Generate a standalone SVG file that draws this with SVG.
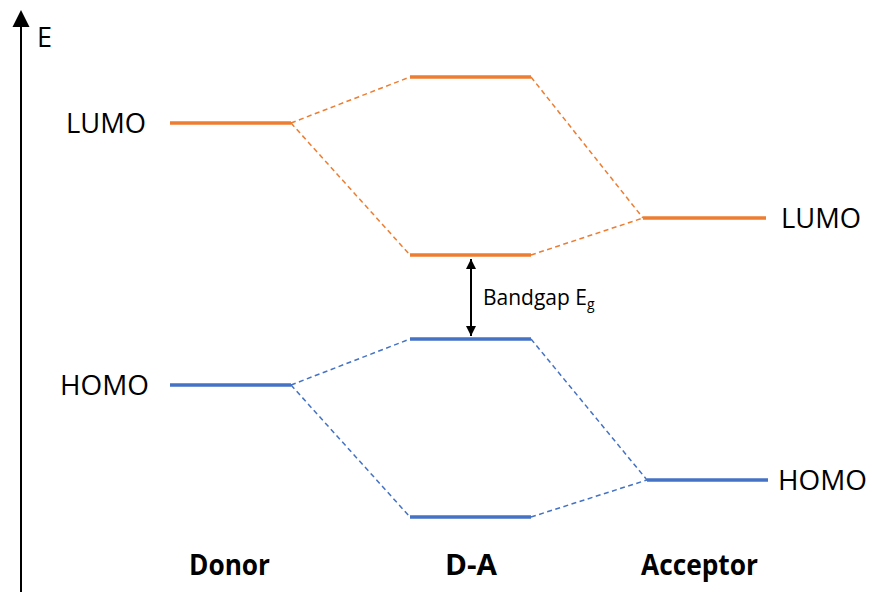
<svg xmlns="http://www.w3.org/2000/svg" width="872" height="592" viewBox="0 0 872 592">
<style>
.lo{stroke:#ED7D31;stroke-width:3.5;fill:none}
.ho{stroke:#4472C4;stroke-width:3.5;fill:none}
.dlo{stroke:#ED7D31;stroke-width:1.5;stroke-dasharray:5 3.5;fill:none}
.dho{stroke:#4472C4;stroke-width:1.5;stroke-dasharray:5 3.5;fill:none}
.lbl{font-family:"Open Sans","Liberation Sans",sans-serif;font-size:27px;fill:#000}
.cat{font-family:"Open Sans","Liberation Sans",sans-serif;font-size:28px;font-weight:bold;fill:#000}
.bg{font-family:"Open Sans","Liberation Sans",sans-serif;font-size:21px;fill:#000}
</style>
<defs>
<marker id="ah" viewBox="0 0 10 10" refX="10" refY="5" markerWidth="10" markerHeight="10" markerUnits="userSpaceOnUse" orient="auto-start-reverse">
<path d="M0,0 L10,5 L0,10 z" fill="#000"/>
</marker>
</defs>
<g id="axis">
<line x1="21" y1="592" x2="21" y2="26" stroke="#000" stroke-width="2"/>
<path d="M12.5,27 L21,10 L29.5,27 z" fill="#000"/>
<text x="37" y="47" class="lbl" font-size="27">E</text>
</g>
<g id="connectors">
<line class="dlo" x1="291" y1="123" x2="410" y2="77"/>
<line class="dlo" x1="291" y1="123" x2="410" y2="255"/>
<line class="dlo" x1="531" y1="77" x2="643" y2="218"/>
<line class="dlo" x1="531" y1="255" x2="643" y2="218"/>
<line class="dho" x1="291" y1="385" x2="410" y2="339"/>
<line class="dho" x1="291" y1="385" x2="410" y2="517"/>
<line class="dho" x1="531" y1="339" x2="647" y2="480"/>
<line class="dho" x1="531" y1="517" x2="647" y2="480"/>
<line x1="471" y1="259" x2="471" y2="336" stroke="#000" stroke-width="2" marker-start="url(#ah)" marker-end="url(#ah)"/>
</g>
<g id="donor-lumo"><line class="lo" x1="170" y1="123" x2="291" y2="123"/><text class="lbl" x="66" y="133" textLength="80" lengthAdjust="spacingAndGlyphs">LUMO</text></g>
<g id="donor-homo"><line class="ho" x1="170" y1="385" x2="291" y2="385"/><text class="lbl" x="60" y="395" textLength="89" lengthAdjust="spacingAndGlyphs">HOMO</text></g>
<g id="da-lumo-high"><line class="lo" x1="410" y1="77" x2="531" y2="77"/></g>
<g id="da-lumo-low"><line class="lo" x1="410" y1="255" x2="531" y2="255"/></g>
<g id="da-homo-high"><line class="ho" x1="410" y1="339" x2="531" y2="339"/></g>
<g id="da-homo-low"><line class="ho" x1="410" y1="517" x2="531" y2="517"/></g>
<g id="acceptor-lumo"><line class="lo" x1="643" y1="218" x2="766" y2="218"/><text class="lbl" x="781" y="228" textLength="80" lengthAdjust="spacingAndGlyphs">LUMO</text></g>
<g id="acceptor-homo"><line class="ho" x1="647" y1="480" x2="768" y2="480"/><text class="lbl" x="778" y="490" textLength="89" lengthAdjust="spacingAndGlyphs">HOMO</text></g>
<g id="bandgap"><text class="bg" x="483" y="305">Bandgap E<tspan font-size="14" dy="4">g</tspan></text></g>
<g id="labels">
<text class="cat" x="189" y="575" textLength="81" lengthAdjust="spacingAndGlyphs">Donor</text>
<text class="cat" x="445" y="575" textLength="52" lengthAdjust="spacingAndGlyphs">D-A</text>
<text class="cat" x="641" y="575" textLength="117" lengthAdjust="spacingAndGlyphs">Acceptor</text>
</g>
</svg>
